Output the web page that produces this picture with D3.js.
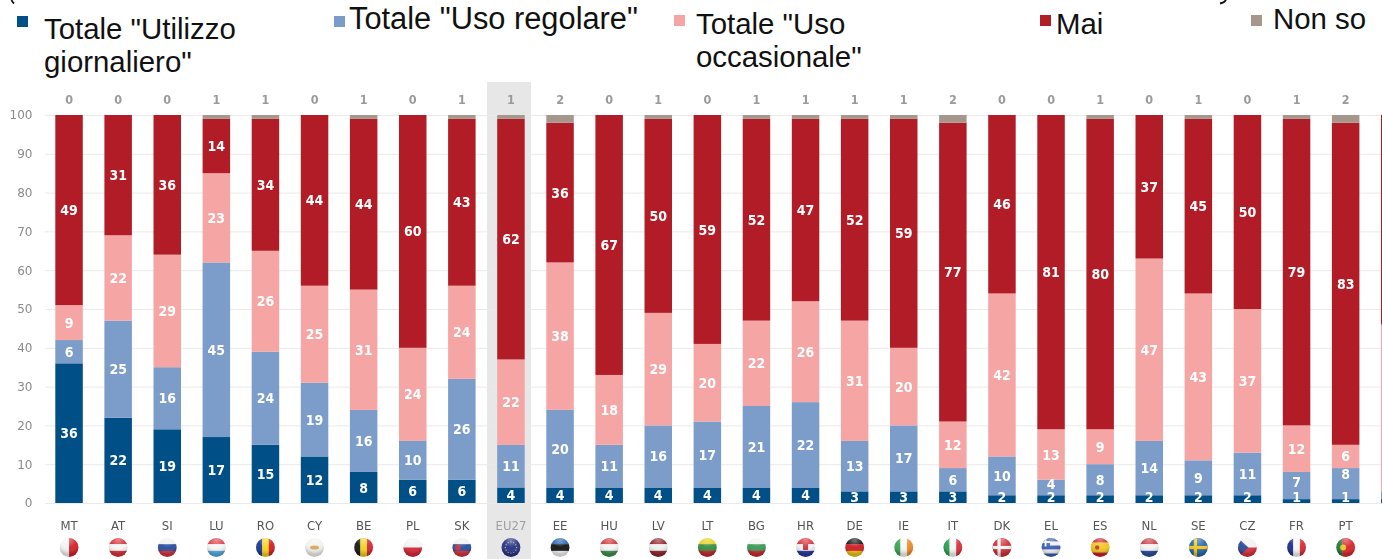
<!DOCTYPE html>
<html><head><meta charset="utf-8">
<script src="https://cdn.jsdelivr.net/npm/d3@7"></script>
<style>
html,body{margin:0;padding:0;background:#fff;overflow:hidden}
svg{display:block}
</style></head><body>
<svg id="c" width="1382" height="559"></svg>
<script>
const categories=["MT","AT","SI","LU","RO","CY","BE","PL","SK","EU27","EE","HU","LV","LT","BG","HR","DE","IE","IT","DK","EL","ES","NL","SE","CZ","FR","PT",""];
const giornaliero=[36,22,19,17,15,12,8,6,6,4,4,4,4,4,4,4,3,3,3,2,2,2,2,2,2,1,1,1];
const regolare=[6,25,16,45,24,19,16,10,26,11,20,11,16,17,21,22,13,17,6,10,4,8,14,9,11,7,8,2];
const occasionale=[9,22,29,23,26,25,31,24,24,22,38,18,29,20,22,26,31,20,12,42,13,9,47,43,37,12,6,43];
const mai=[49,31,36,14,34,44,44,60,43,62,36,67,50,59,52,47,52,59,77,46,81,80,37,45,50,79,83,54];
const nonSo=[0,0,0,1,1,0,1,0,1,1,2,0,1,0,1,1,1,1,2,0,0,1,0,1,0,1,2,0];
const yTicks=[0,10,20,30,40,50,60,70,80,90,100];
const legendEntries=[
 {key:"g",lines:['Totale "Utilizzo','giornaliero"']},
 {key:"r",lines:['Totale "Uso regolare"']},
 {key:"o",lines:['Totale "Uso','occasionale"']},
 {key:"m",lines:['Mai']},
 {key:"n",lines:['Non so']}];
const colors={g:"#024f87",r:"#7b9cc9",o:"#f6a5a5",m:"#b11f27",n:"#a5978c"};
const seriesKeys=["g","r","o","m","n"];
const flagStripes={MT:["v","#f4f4f4","#d5232c"],AT:["h","#d8343c","#f6f6f6","#d8343c"],SI:["h","#f0f0f0","#2a4fa0","#d8343c"],LU:["h","#e0434a","#f6f6f6","#55aee0"],RO:["v","#1f3a93","#f6d21d","#d2232c"],CY:["h","#f2f2ee"],BE:["v","#1a1a1a","#f3d21e","#d8283a"],PL:["h","#f4f4f4","#d8283a"],SK:["h","#f0f0f0","#2a4fa0","#d8343c"],EU27:["h","#27348b"],EE:["h","#2b66b0","#151515","#f4f4f4"],HU:["h","#cf3a40","#f4f4f4","#3f8f4d"],LV:["h","#92282f","#f0f0f0","#92282f"],LT:["h","#e8cf1f","#3c8f43","#c9282f"],BG:["h","#f4f4f4","#3c9a58","#cf2a2f"],HR:["h","#d8343c","#f2f2f2","#2738a0"],DE:["h","#1c1c1c","#cf1f24","#f0c419"],IE:["v","#3aa654","#f6f6f6","#f08a2b"],IT:["v","#2f9e50","#f6f6f6","#d8343c"],DK:["h","#cf3038"],EL:["h","#3b5fb5","#f2f2f2","#3b5fb5","#f2f2f2","#3b5fb5"],ES:["h","#c8262c","#f4c522","#f4c522","#c8262c"],NL:["h","#c8404a","#f4f4f4","#2c4f9e"],SE:["h","#2a68ae"],CZ:["h","#f2f2f2","#d8343c"],FR:["v","#20308f","#f6f6f6","#dc2c36"],PT:["v","#2b7a3a","#d8282f","#d8282f"]};
const flagCrosses={DK:"#f4f4f4",SE:"#f2c81e"};
const regolareNudge={PT:-10,FR:-4,EL:-4};
const condensed="'DejaVu Sans Condensed','DejaVu Sans'";

const W=1382,H=559;
const svg=d3.select("#c");
const defs=svg.append("defs");
defs.append("filter").attr("id","soft").attr("x","-2%").attr("y","-2%").attr("width","104%").attr("height","104%")
  .append("feGaussianBlur").attr("stdDeviation",0.5);
const grad=defs.append("radialGradient").attr("id","gloss").attr("cx","50%").attr("cy","10%").attr("r","75%");
grad.append("stop").attr("offset","0%").attr("stop-color","#fff").attr("stop-opacity",.4);
grad.append("stop").attr("offset","55%").attr("stop-color","#fff").attr("stop-opacity",.03);
grad.append("stop").attr("offset","100%").attr("stop-color","#000").attr("stop-opacity",.2);
defs.append("clipPath").attr("id","disc").append("circle").attr("r",9.4);

const x=d3.scaleBand().domain(categories).range([44.5,1419.3]).paddingInner(.44).paddingOuter(.22);
const y=d3.scaleLinear().domain([0,100]).range([503,115]);
const rows=categories.map((c,i)=>({c,g:giornaliero[i],r:regolare[i],o:occasionale[i],m:mai[i],n:nonSo[i]}));
const stacked=d3.stack().keys(seriesKeys)(rows);

const chart=svg.append("g").attr("filter","url(#soft)");
// EU27 highlight
chart.append("rect").attr("x",487).attr("width",44).attr("y",82).attr("height",H-82).attr("fill","#e7e7e7");

// axis
const axis=chart.append("g").attr("transform","translate(45,0)").call(d3.axisLeft(y).tickValues(yTicks).tickSize(-(W-45)).tickPadding(12.5));
axis.select(".domain").remove();
axis.selectAll(".tick line").attr("stroke","#ece9e7").attr("stroke-width",1);
axis.selectAll(".tick text").attr("fill","#8b8b8b").attr("font-family","'DejaVu Sans'").attr("font-size",12);

// bars
const layers=chart.selectAll("g.layer").data(stacked).join("g").attr("class","layer").attr("fill",d=>colors[d.key]);
layers.selectAll("rect").data(d=>d).join("rect")
  .attr("x",d=>x(d.data.c)).attr("width",x.bandwidth())
  .attr("y",d=>y(d[1])).attr("height",d=>y(d[0])-y(d[1]));

// segment labels
const labelKeys=["g","r","o","m"];
stacked.filter(s=>labelKeys.includes(s.key)).forEach(s=>{
  chart.append("g").selectAll("text").data(s.filter(d=>d.data.c!=="")).join("text")
    .attr("x",d=>x(d.data.c)+x.bandwidth()/2)
    .attr("y",d=>{
      const mid=(y(d[0])+y(d[1]))/2;
      if(s.key==="g") return Math.min(mid,y(1.5));
      if(s.key==="r") return mid+(regolareNudge[d.data.c]||0);
      return mid;
    }).attr("dy","0.36em")
    .attr("text-anchor","middle").attr("fill","#fff").attr("font-family",condensed).attr("font-stretch","condensed").attr("font-weight","bold").attr("font-size",14)
    .text(d=>d[1]-d[0]);
});
// non so labels on top
chart.append("g").selectAll("text").data(rows.filter(d=>d.c!=="")).join("text")
  .attr("x",d=>x(d.c)+x.bandwidth()/2).attr("y",99).attr("dy","0.36em").attr("text-anchor","middle")
  .attr("fill","#9a9a9a").attr("font-family",condensed).attr("font-stretch","condensed").attr("font-weight","bold").attr("font-size",12.5).text(d=>d.n);
// category labels
chart.append("g").selectAll("text").data(rows.filter(d=>d.c!=="")).join("text")
  .attr("x",d=>x(d.c)+x.bandwidth()/2).attr("y",525).attr("dy","0.36em").attr("text-anchor","middle")
  .attr("fill",d=>d.c==="EU27"?"#a0a0a0":"#555").attr("font-family",condensed).attr("font-stretch","condensed").attr("font-size",13).text(d=>d.c);

// flags
const flags=chart.append("g").selectAll("g").data(categories.filter(c=>c!=="")).join("g")
  .attr("transform",c=>`translate(${x(c)+x.bandwidth()/2},547.5)`);
flags.each(function(c){
  const g=d3.select(this), clip=g.append("g").attr("clip-path","url(#disc)");
  const spec=flagStripes[c], dir=spec[0], cols=spec.slice(1);
  const s=d3.scaleBand().domain(d3.range(cols.length)).range([-10,10]);
  cols.forEach((col,i)=>{
    clip.append("rect").attr("fill",col)
      .attr("x",dir==="v"?s(i):-10).attr("y",dir==="h"?s(i):-10)
      .attr("width",dir==="v"?s.bandwidth()+.3:20).attr("height",dir==="h"?s.bandwidth()+.3:20);
  });
  if(flagCrosses[c]){
    clip.append("rect").attr("x",-4.5).attr("y",-10).attr("width",3.2).attr("height",20).attr("fill",flagCrosses[c]);
    clip.append("rect").attr("x",-10).attr("y",-1.6).attr("width",20).attr("height",3.2).attr("fill",flagCrosses[c]);
  }
  if(c==="EL"){
    clip.append("rect").attr("x",-10).attr("y",-10).attr("width",9).attr("height",9).attr("fill","#3b5fb5");
    clip.append("rect").attr("x",-6.5).attr("y",-10).attr("width",2).attr("height",9).attr("fill","#f2f2f2");
    clip.append("rect").attr("x",-10).attr("y",-6.5).attr("width",9).attr("height",2).attr("fill","#f2f2f2");
  }
  if(c==="CZ") clip.append("path").attr("d","M-10,-10L1,0L-10,10Z").attr("fill","#2c4a9e");
  if(c==="PT") clip.append("circle").attr("cx",-2.5).attr("r",3).attr("fill","#e7c62a");
  if(c==="ES") clip.append("circle").attr("cx",-3).attr("r",2.2).attr("fill","#b5482a");
  if(c==="SK") clip.append("circle").attr("cx",-4).attr("r",3).attr("fill","#c8343c");
  if(c==="CY") clip.append("ellipse").attr("rx",4.5).attr("ry",2).attr("fill","#d9a860");
  if(c==="HR") clip.append("rect").attr("x",-2.5).attr("y",-3.5).attr("width",5).attr("height",6).attr("fill","#c8343c");
  if(c==="EU27") clip.selectAll("circle").data(d3.range(12)).join("circle")
    .attr("cx",i=>5.6*Math.cos(i*Math.PI/6)).attr("cy",i=>5.6*Math.sin(i*Math.PI/6)).attr("r",.7).attr("fill","#c9b84a");
  g.append("circle").attr("r",9.4).attr("fill","url(#gloss)");
});

// legend
const swatch={g:[17,16],r:[334,16],o:[674,15],m:[1040,15],n:[1251,15]};
const legendText={g:[44,38.5,33],r:[349,29,0],o:[696,34,33],m:[1056,34,0],n:[1273,29,0]};
const legendSize={g:29.4,r:30.8,o:29.4,m:29.4,n:29.4};
const legend=svg.append("g");
legendEntries.forEach(e=>{
  legend.append("rect").attr("x",swatch[e.key][0]).attr("y",swatch[e.key][1]).attr("width",11).attr("height",11).attr("fill",colors[e.key]);
  const [tx,ty,lh]=legendText[e.key];
  e.lines.forEach((l,i)=>legend.append("text").attr("x",tx).attr("y",ty+i*lh)
    .attr("font-family","'Liberation Sans'").attr("font-size",legendSize[e.key]).attr("fill","#111").text(l));
});
// slivers of two glyphs left from a line cropped off above the picture
legend.append("path").attr("d","M11.5,0Q12.2,2 14,3.5M1226,0Q1224.5,2.5 1220,3.5").attr("fill","none").attr("stroke","#111").attr("stroke-width",1.8);
</script>
</body></html>
